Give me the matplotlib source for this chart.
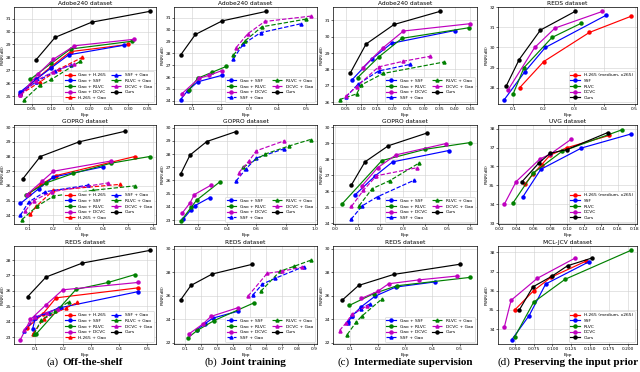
import matplotlib.pyplot as plt
from matplotlib.ticker import MultipleLocator
from matplotlib.offsetbox import TextArea, HPacker, AnnotationBbox

# ---- data: method -> (bpp values, PSNR values) ----
adobe_shelf = {
    'Gao + H.265': ([0.02, 0.06, 0.10, 0.15, 0.30], [25.2, 26.3, 27.3, 28.45, 29.0]),
    'Gao + SSF': ([0.02, 0.06, 0.10, 0.145, 0.29], [25.35, 26.3, 27.2, 28.2, 28.95]),
    'Gao + RLVC': ([0.045, 0.10, 0.15, 0.31], [26.3, 27.55, 28.65, 29.25]),
    'Gao + DCVC': ([0.02, 0.065, 0.105, 0.16, 0.315], [25.1, 26.7, 27.85, 28.9, 29.4]),
    'H.265 + Gao': ([0.02, 0.07, 0.12, 0.18], [25.15, 26.1, 27.1, 28.0]),
    'SSF + Gao': ([0.02, 0.06, 0.11, 0.15], [25.25, 26.1, 26.95, 27.4]),
    'RLVC + Gao': ([0.03, 0.07, 0.10, 0.175], [24.75, 25.85, 26.3, 27.7]),
    'DCVC + Gao': ([0.02, 0.06, 0.105, 0.16], [25.1, 26.2, 26.9, 27.5]),
    'Ours': ([0.06, 0.11, 0.205, 0.355], [27.8, 29.55, 30.72, 31.55]),
}
adobe_joint = {
    'Gao + SSF': ([0.06, 0.085, 0.12, 0.205], [24.1, 24.85, 25.6, 26.15]),
    'Gao + RLVC': ([0.09, 0.12, 0.17, 0.22], [24.9, 25.9, 26.4, 26.9]),
    'Gao + DCVC': ([0.065, 0.125, 0.16, 0.205], [24.6, 25.9, 26.15, 26.55]),
    'SSF + Gao': ([0.245, 0.28, 0.34, 0.48], [27.55, 28.8, 29.75, 30.5]),
    'RLVC + Gao': ([0.245, 0.285, 0.345, 0.50], [27.85, 29.05, 30.25, 30.9]),
    'DCVC + Gao': ([0.255, 0.295, 0.355, 0.515], [28.5, 29.65, 30.7, 31.15]),
    'Ours': ([0.06, 0.112, 0.206, 0.36], [27.85, 29.6, 30.75, 31.55]),
}
adobe_inter = {
    'Gao + SSF': ([0.07, 0.133, 0.197, 0.40], [27.36, 28.63, 29.6, 30.38]),
    'Gao + RLVC': ([0.088, 0.157, 0.23, 0.445], [27.5, 28.78, 29.9, 30.55]),
    'Gao + DCVC': ([0.104, 0.168, 0.235, 0.45], [28.1, 29.3, 30.35, 30.8]),
    'SSF + Gao': ([0.05, 0.09, 0.155, 0.255], [26.3, 27.1, 27.9, 28.3]),
    'RLVC + Gao': ([0.03, 0.085, 0.10, 0.17, 0.365], [26.15, 26.5, 27.05, 27.75, 28.45]),
    'DCVC + Gao': ([0.05, 0.085, 0.155, 0.235, 0.32], [26.35, 26.95, 28.15, 28.5, 28.8]),
    'Ours': ([0.065, 0.115, 0.205, 0.352], [27.8, 29.55, 30.75, 31.55]),
}
reds_prior = {
    'H.265 (medium, x265)': ([0.122, 0.201, 0.351, 0.487], [28.0, 29.3, 30.75, 31.55]),
    'SSF': ([0.071, 0.138, 0.206, 0.405], [27.4, 28.78, 30.0, 31.6]),
    'RLVC': ([0.10, 0.136, 0.228, 0.323], [27.68, 29.0, 30.5, 31.2]),
    'DCVC': ([0.084, 0.171, 0.238, 0.394], [27.9, 30.0, 30.97, 31.8]),
    'Ours': ([0.078, 0.12, 0.19, 0.304], [28.1, 29.4, 30.87, 31.8]),
}
gopro_shelf = {
    'Gao + H.265': ([0.10, 0.15, 0.21, 0.527], [25.45, 26.1, 26.7, 28.0]),
    'Gao + SSF': ([0.067, 0.14, 0.20, 0.40], [24.8, 25.8, 26.6, 27.3]),
    'Gao + RLVC': ([0.09, 0.17, 0.28, 0.433, 0.587], [25.4, 26.2, 26.85, 27.55, 28.0]),
    'Gao + DCVC': ([0.093, 0.153, 0.20, 0.433], [25.4, 26.3, 27.0, 27.7]),
    'H.265 + Gao': ([0.107, 0.13, 0.20, 0.467], [24.05, 24.6, 25.7, 26.1]),
    'SSF + Gao': ([0.067, 0.10, 0.167, 0.34], [24.0, 24.9, 25.6, 26.05]),
    'RLVC + Gao': ([0.073, 0.133, 0.20, 0.36, 0.527], [23.7, 24.6, 25.3, 25.7, 26.0]),
    'DCVC + Gao': ([0.087, 0.12, 0.193, 0.42], [24.3, 25.0, 25.6, 26.2]),
    'Ours': ([0.076, 0.147, 0.303, 0.49], [26.47, 28.0, 29.0, 29.73]),
}
gopro_joint = {
    'Gao + SSF': ([0.10, 0.15, 0.18, 0.28], [23.1, 23.75, 24.1, 24.7]),
    'Gao + RLVC': ([0.085, 0.155, 0.19, 0.35], [22.95, 24.0, 24.5, 25.9]),
    'Gao + DCVC': ([0.09, 0.145, 0.175, 0.29], [23.5, 24.3, 24.93, 25.65]),
    'SSF + Gao': ([0.46, 0.53, 0.60, 0.79], [25.95, 26.9, 27.7, 28.4]),
    'RLVC + Gao': ([0.51, 0.66, 0.82, 0.97], [27.0, 28.0, 28.6, 29.1]),
    'DCVC + Gao': ([0.48, 0.55, 0.60, 0.79], [26.6, 27.5, 28.25, 29.0]),
    'Ours': ([0.08, 0.145, 0.26, 0.46], [26.46, 27.92, 28.95, 29.7]),
}
gopro_inter = {
    'Gao + SSF': ([0.087, 0.178, 0.255, 0.504], [25.76, 26.97, 27.84, 28.55]),
    'Gao + RLVC': ([0.03, 0.207, 0.40, 0.60], [25.2, 27.92, 28.63, 29.05]),
    'Gao + DCVC': ([0.12, 0.188, 0.27, 0.493], [26.36, 27.47, 28.28, 28.99]),
    'SSF + Gao': ([0.07, 0.12, 0.188, 0.352], [24.24, 25.09, 25.66, 26.7]),
    'RLVC + Gao': ([0.106, 0.164, 0.243, 0.374], [25.09, 26.16, 26.67, 27.78]),
    'DCVC + Gao': ([0.072, 0.125, 0.183, 0.362], [25.05, 26.06, 26.97, 27.47]),
    'Ours': ([0.072, 0.132, 0.236, 0.406], [26.4, 27.84, 28.85, 29.64]),
}
uvg_prior = {
    'H.265 (medium, x265)': ([0.05, 0.06, 0.07, 0.08, 0.10, 0.15],
                             [35.05, 35.6, 36.1, 36.6, 37.0, 37.65]),
    'SSF': ([0.048, 0.069, 0.117, 0.175], [34.4, 35.85, 36.98, 37.72]),
    'RLVC': ([0.036, 0.06, 0.094, 0.165], [34.05, 35.65, 36.8, 37.95]),
    'DCVC': ([0.026, 0.04, 0.068, 0.08, 0.105], [34.0, 35.2, 36.4, 36.65, 37.45]),
    'Ours': ([0.047, 0.067, 0.08, 0.10, 0.148], [35.2, 36.2, 36.7, 36.9, 37.8]),
}
reds_shelf = {
    'Gao + H.265': ([0.069, 0.126, 0.174, 0.47], [23.6, 24.5, 25.55, 26.2]),
    'Gao + SSF': ([0.09, 0.10, 0.186, 0.468], [23.55, 24.3, 24.9, 25.95]),
    'Gao + RLVC': ([0.102, 0.246, 0.362, 0.456], [23.2, 26.1, 26.55, 27.05]),
    'Gao + DCVC': ([0.046, 0.082, 0.138, 0.198, 0.47], [22.85, 24.15, 25.1, 26.07, 26.55]),
    'H.265 + Gao': ([0.09, 0.13, 0.21, 0.25], [23.2, 24.2, 24.9, 25.25]),
    'SSF + Gao': ([0.06, 0.10, 0.15, 0.19], [23.4, 24.25, 24.6, 24.95]),
    'RLVC + Gao': ([0.095, 0.12, 0.17, 0.22], [23.2, 24.1, 24.7, 25.3]),
    'DCVC + Gao': ([0.06, 0.10, 0.14, 0.18], [23.5, 24.3, 24.6, 24.8]),
    'Ours': ([0.072, 0.138, 0.268, 0.51], [25.63, 26.9, 27.8, 28.62]),
}
reds_joint = {
    'Gao + SSF': ([0.17, 0.22, 0.27, 0.43], [23.1, 23.6, 24.1, 24.7]),
    'Gao + RLVC': ([0.115, 0.175, 0.28, 0.53], [22.42, 23.06, 23.9, 25.42]),
    'Gao + DCVC': ([0.125, 0.21, 0.26, 0.43], [22.78, 23.61, 24.25, 25.0]),
    'SSF + Gao': ([0.52, 0.58, 0.66, 0.84], [26.06, 27.0, 27.5, 28.5]),
    'RLVC + Gao': ([0.57, 0.69, 0.78, 0.88], [26.39, 28.1, 28.53, 29.03]),
    'DCVC + Gao': ([0.49, 0.61, 0.70, 0.83], [25.97, 27.92, 28.1, 28.45]),
    'Ours': ([0.07, 0.135, 0.267, 0.517], [25.64, 26.89, 27.86, 28.69]),
}
reds_inter = {
    'Gao + SSF': ([0.09, 0.106, 0.14, 0.19, 0.266, 0.41], [23.75, 24.3, 25.08, 25.97, 26.75, 27.19]),
    'Gao + RLVC': ([0.096, 0.185, 0.27, 0.54], [25.19, 26.19, 26.86, 27.58]),
    'Gao + DCVC': ([0.14, 0.20, 0.24, 0.35, 0.49], [25.78, 26.39, 27.03, 27.36, 27.69]),
    'SSF + Gao': ([0.09, 0.106, 0.137, 0.17], [23.7, 24.3, 24.9, 25.3]),
    'RLVC + Gao': ([0.088, 0.122, 0.143, 0.216], [22.7, 23.8, 24.3, 25.75]),
    'DCVC + Gao': ([0.06, 0.084, 0.106, 0.16], [23.05, 23.7, 24.45, 25.14]),
    'Ours': ([0.07, 0.13, 0.259, 0.50], [25.64, 26.89, 27.83, 28.69]),
}
mcl_prior = {
    'H.265 (medium, x265)': ([0.05, 0.075, 0.098, 0.145], [35.0, 36.0, 36.7, 37.55]),
    'SSF': ([0.046, 0.069, 0.091, 0.148], [33.45, 34.7, 36.35, 37.5]),
    'RLVC': ([0.05, 0.075, 0.117, 0.204], [33.6, 35.4, 36.6, 38.1]),
    'DCVC': ([0.036, 0.045, 0.08, 0.13], [34.1, 35.5, 36.65, 37.7]),
    'Ours': ([0.056, 0.074, 0.099, 0.12, 0.152], [35.0, 36.2, 36.75, 37.3, 37.7]),
}

captions = [('(a)', 'Off-the-shelf'), ('(b)', 'Joint training'),
            ('(c)', 'Intermediate supervision'), ('(d)', 'Preserving the input prior')]

# line colour / style / marker for every method
styles = {
    'Gao + H.265': ('red', '-', 'o'), 'Gao + SSF': ('blue', '-', 'o'),
    'Gao + RLVC': ('green', '-', 'o'), 'Gao + DCVC': ('m', '-', 'o'),
    'H.265 + Gao': ('red', '--', '^'), 'SSF + Gao': ('blue', '--', '^'),
    'RLVC + Gao': ('green', '--', '^'), 'DCVC + Gao': ('m', '--', '^'),
    'Ours': ('black', '-', 'o'),
    'H.265 (medium, x265)': ('red', '-', 'o'), 'SSF': ('blue', '-', 'o'),
    'RLVC': ('green', '-', 'o'), 'DCVC': ('m', '-', 'o'),
}

# panel grid: (data, title, x tick step, y tick step, xlim, ylim, legend columns)
panels = [
    [(adobe_shelf, 'Adobe240 dataset', 0.05, 1, None, None, 2),
     (adobe_joint, 'Adobe240 dataset', 0.1, 1, None, None, 2),
     (adobe_inter, 'Adobe240 dataset', 0.05, 1, None, None, 2),
     (reds_prior, 'REDS dataset', 0.1, 1, None, None, 1)],
    [(gopro_shelf, 'GOPRO dataset', 0.1, 1, None, (23.4, 30.15), 2),
     (gopro_joint, 'GOPRO dataset', 0.2, 1, None, (22.7, 30.2), 2),
     (gopro_inter, 'GOPRO dataset', 0.1, 1, (-0.01, 0.63), (23.95, 30.15), 2),
     (uvg_prior, 'UVG dataset', 0.02, 1, None, (32.95, 38.2), 1)],
    [(reds_shelf, 'REDS dataset', 0.1, 1, None, None, 2),
     (reds_joint, 'REDS dataset', 0.1, 2, None, (21.9, 30.25), 2),
     (reds_inter, 'REDS dataset', 0.1, 2, None, (21.9, 30.25), 2),
     (mcl_prior, 'MCL-JCV dataset', 0.025, 1, None, None, 1)],
]

W, H = 640, 372
col_left = [14, 174, 333, 498]
col_width = [142, 143, 144, 139]
row_top = [7, 125, 246]
row_height = [97, 99, 98]

fig = plt.figure(figsize=(W / 100, H / 100), dpi=100)

for r, row in enumerate(panels):
    for c, (data, title, xstep, ystep, xlim, ylim, ncol) in enumerate(row):
        ax = fig.add_axes([col_left[c] / W, 1 - (row_top[r] + row_height[r]) / H,
                           col_width[c] / W, row_height[r] / H])
        for name, (x, y) in data.items():
            color, ls, mk = styles[name]
            ax.plot(x, y, color=color, linestyle=ls, marker=mk, lw=0.85,
                    markersize=2.2, label=name)
        if xlim:
            ax.set_xlim(xlim)
        if ylim:
            ax.set_ylim(ylim)
        ax.xaxis.set_major_locator(MultipleLocator(xstep))
        ax.yaxis.set_major_locator(MultipleLocator(ystep))
        ax.grid(linewidth=0.4, color='#d0d0d0')
        ax.set_axisbelow(True)
        ax.tick_params(labelsize=3.2, length=1.5, width=0.4, pad=0.8)
        for s in ax.spines.values():
            s.set_linewidth(0.5)
        ax.set_title(title, fontsize=4.2, pad=1.5)
        ax.set_xlabel('Bpp', fontsize=3.2, labelpad=1)
        ax.set_ylabel('PSNR(dB)', fontsize=3.0, labelpad=0.5)
        leg = ax.legend(loc='lower right', ncol=ncol, fontsize=3.2, handlelength=2.2,
                        labelspacing=0.35, columnspacing=1.2, borderpad=0.4,
                        framealpha=1, edgecolor='#cccccc', fancybox=True)
        leg.get_frame().set_linewidth(0.4)

# sub-figure captions: "(a)" regular + name in bold
for c, (tag, name) in enumerate(captions):
    box = HPacker(children=[
        TextArea(tag, textprops=dict(family='Liberation Serif', size=8)),
        TextArea(name, textprops=dict(family='Liberation Serif', size=8, weight='bold'))],
        pad=0, sep=2.5, align='baseline')
    cx = (col_left[c] + col_width[c] / 2) / W
    fig.add_artist(AnnotationBbox(box, (cx, 1 - 362 / H), xycoords='figure fraction',
                                  frameon=False, box_alignment=(0.5, 0.5)))

fig.savefig('out.png', dpi=100)
